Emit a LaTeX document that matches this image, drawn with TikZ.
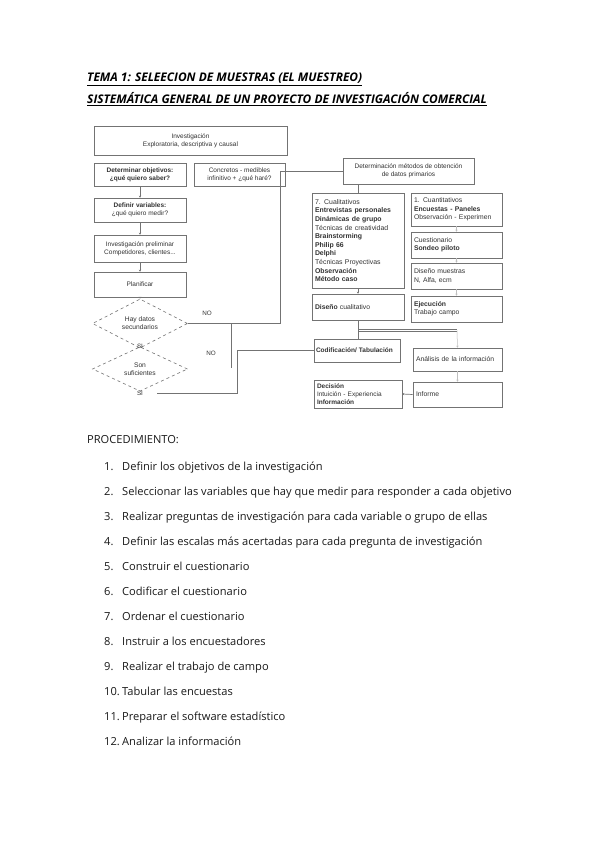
\documentclass[tikz,border=0pt]{standalone}
\usepackage{fontspec}
\setmainfont{Open Sans}
\newfontfamily\dfont{Liberation Sans}
\usetikzlibrary{shapes.geometric,arrows.meta}
\begin{document}
\begin{tikzpicture}[x=1pt,y=-1pt,
  box/.style={draw=black!55, line width=0.6pt, inner sep=1pt, align=center,
    font=\dfont\fontsize{6.5}{8}\selectfont, text=black!80},
  lbox/.style={box, align=left, inner sep=3pt},
  dia/.style={diamond, draw=black!55, dashed, line width=0.6pt, inner sep=0pt, align=center,
    font=\dfont\fontsize{6.7}{8}\selectfont, text=black!80},
  lbl/.style={font=\dfont\fontsize{6.3}{7}\selectfont, text=black!80, inner sep=0pt},
  conn/.style={draw=black!55, line width=0.7pt},
  arr/.style={conn, -{Stealth[length=2pt,width=2.2pt]}},
  tick/.style={draw=black!25, line width=0.5pt, -{Stealth[length=2pt,width=2.2pt]}},
  ttl/.style={anchor=base west, inner sep=0pt, font=\bfseries\itshape\fontsize{11.9}{14}\selectfont},
  txt/.style={anchor=base west, inner sep=0pt, font=\fontsize{11.1}{13}\selectfont, text=black!90}
]
\path[use as bounding box, fill=white] (0,0) rectangle (599,848);

% titles
\node[ttl] (t1) at (87,82) {\underline{TEMA 1: SELEECION DE MUESTRAS (EL MUESTREO)}};
\node[ttl] (t2) at (87,104) {\underline{SISTEMÁTICA GENERAL DE UN PROYECTO DE INVESTIGACIÓN COMERCIAL}};

% left column
\node[box, minimum width=193, minimum height=29] (inv) at (190.5,140.5)
  {Investigación\\Exploratoria, descriptiva y causal};
\node[box, minimum width=92, minimum height=23] (obj) at (140,174.5)
  {{\bfseries Determinar objetivos:}\\{\bfseries ¿qué quiero saber?}};
\node[box, minimum width=91, minimum height=23] (conc) at (239.5,174.5)
  {Concretos - medibles\\infinitivo + ¿qué haré?};
\node[box, minimum width=92, minimum height=24] (var) at (140,210)
  {{\bfseries Definir variables:}\\¿qué quiero medir?};
\node[box, minimum width=92, minimum height=27] (pre) at (140,248.5)
  {Investigación preliminar\\Competidores, clientes...};
\node[box, minimum width=92, minimum height=25] (plan) at (140,284.5) {Planificar};
\node[dia, minimum width=95, minimum height=35] (d1) at (140,323.5) {Hay datos\\secundarios};
\node[dia, minimum width=95, minimum height=37] (d2) at (140,369) {Son\\suficientes};
\node[lbl] (si1) at (140,346.5) {SI};
\node[lbl] (si2) at (140,393.5) {SI};
\node[lbl] (no1) at (207,313) {NO};
\node[lbl] (no2) at (211,353) {NO};

% right part
\node[box, minimum width=131, minimum height=26] (det) at (408.5,171)
  {Determinación métodos de obtención\\de datos primarios};
\node[lbox, text width=86, minimum height=95, font=\dfont\fontsize{6.9}{8.6}\selectfont] (qual) at (358,240.5)
  {7. Cualitativos\\{\bfseries Entrevistas personales}\\{\bfseries Dinámicas de grupo}\\Técnicas de creatividad\\{\bfseries Brainstorming}\\{\bfseries Philip 66}\\{\bfseries Delphi}\\Técnicas Proyectivas\\{\bfseries Observación}\\{\bfseries Método caso}};
\node[lbox, text width=85, minimum height=33, font=\dfont\fontsize{6.8}{8.4}\selectfont] (q1) at (456.5,209.5)
  {1. Cuantitativos\\{\bfseries Encuestas - Paneles}\\Observación - Experimen};
\node[lbox, text width=85, minimum height=26, font=\dfont\fontsize{6.8}{8.4}\selectfont] (q2) at (456.5,245)
  {Cuestionario\\{\bfseries Sondeo piloto}};
\node[lbox, text width=85, minimum height=26, font=\dfont\fontsize{6.8}{8.4}\selectfont] (q3) at (456.5,276)
  {Diseño muestras\\N, Alfa, ecm};
\node[lbox, text width=85, minimum height=26, font=\dfont\fontsize{6.8}{8.4}\selectfont] (q4) at (456.5,309)
  {{\bfseries Ejecución}\\Trabajo campo};
\node[lbox, text width=86, minimum height=26, font=\dfont\fontsize{6.8}{8.4}\selectfont] (dcual) at (358,307)
  {{\bfseries Diseño} cualitativo};
\node[lbox, inner sep=2pt, text width=82, minimum height=23, font=\dfont\fontsize{6.5}{8}\selectfont] (cod) at (357,350.5)
  {{\bfseries Codificación/ Tabulación}};
\node[lbox, text width=83, minimum height=23, font=\dfont\fontsize{6.8}{8.4}\selectfont] (ana) at (457.5,359.5)
  {Análisis de la información};
\node[lbox, text width=83, minimum height=25, font=\dfont\fontsize{6.8}{8.4}\selectfont] (inf) at (457.5,394.5) {Informe};
\node[lbox, text width=82, minimum height=28, font=\dfont\fontsize{6.5}{8}\selectfont] (dec) at (358,394)
  {{\bfseries Decisión}\\Intuición - Experiencia\\{\bfseries Información}};

% connectors left column
\draw[arr] (obj) -- (var);
\draw[arr] (var) -- (pre);
\draw[arr] (pre) -- (plan);
\draw[arr] (plan) -- (d1);

\coordinate (k1) at (280,323.5);
\draw[conn] (d1.east) -- (k1) |- (det.west);
\coordinate (k2) at (231,323.5);
\coordinate (k3) at (231,368);
\draw[conn] (k2) -- (k3);
\coordinate (s2) at (157,393);
\coordinate (k4) at (237,393);
\draw[conn] (s2) -- (k4) |- (cod.west);

% connectors right part
\draw[conn] (det.south -| qual.north) -- (qual.north);
\draw[arr] (qual) -- (dcual);
\draw[conn] (dcual.south) -- (dcual.south |- cod.north);
\coordinate (m1) at (359,330.5);
\coordinate (m2) at (457,330.5);
\draw[draw=black!55, line width=0.5pt, double=white, double distance=1.6pt] (m1) -- (m2);
\draw[tick] (m2) -- (ana.north);
\draw[tick] (q1) -- (q2);
\draw[tick] (q2) -- (q3);
\draw[tick] (q3) -- (q4);
\draw[tick] (ana) -- (inf);
\draw[arr] (inf.west) -- (dec.east);

% procedure
\node[txt] (proc) at (87,443) {PROCEDIMIENTO:};
\foreach \t [count=\i] in {
  Definir los objetivos de la investigación,
  Seleccionar las variables que hay que medir para responder a cada objetivo,
  Realizar preguntas de investigación para cada variable o grupo de ellas,
  Definir las escalas más acertadas para cada pregunta de investigación,
  Construir el cuestionario,
  Codificar el cuestionario,
  Ordenar el cuestionario,
  Instruir a los encuestadores,
  Realizar el trabajo de campo,
  Tabular las encuestas,
  Preparar el software estadístico,
  Analizar la información}{
  \node[txt] (n\i) at (104,{470+(\i-1)*25}) {\i.};
  \node[txt] (p\i) at (122,{470+(\i-1)*25}) {\t};
}
\end{tikzpicture}
\end{document}
